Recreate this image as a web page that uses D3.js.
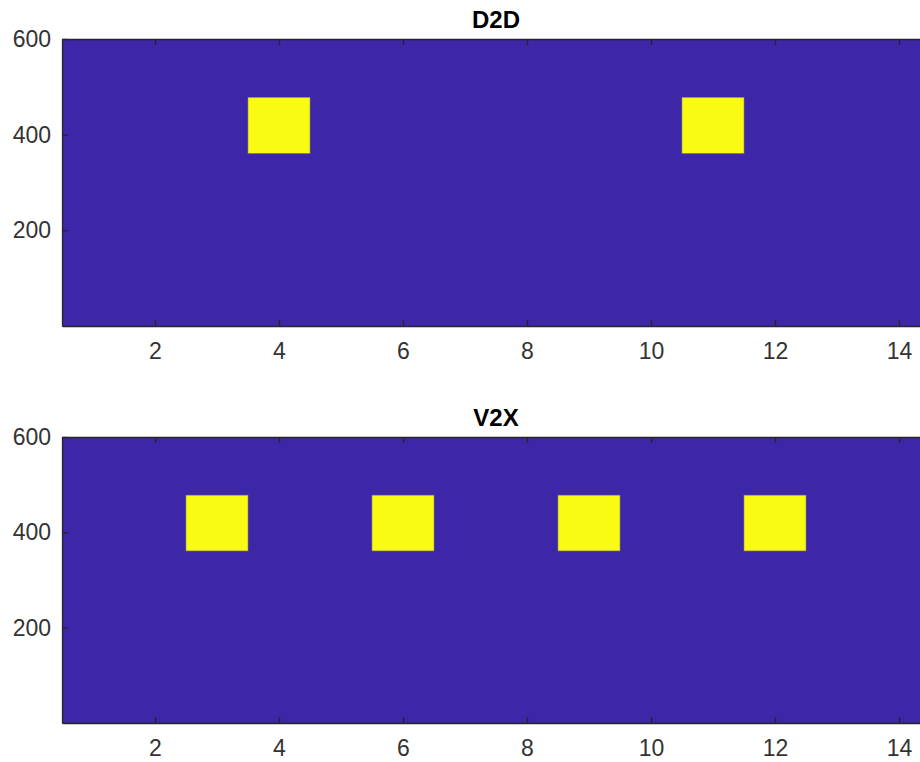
<!DOCTYPE html>
<meta charset="utf-8">
<style>
body { margin: 0; overflow: hidden; background: #fff; }
.axis text { font-family: "Liberation Sans", Arial, sans-serif; font-size: 23px; fill: #333; }
.title { font-family: "Liberation Sans", Arial, sans-serif; font-size: 24px; font-weight: bold; fill: #000; }
</style>
<script src="https://d3js.org/d3.v7.min.js"></script>
<div id="chart"></div>
<script>

// columns of the image (1..14)
var columns = [1, 2, 3, 4, 5, 6, 7, 8, 9, 10, 11, 12, 13, 14];
// 1 = active (yellow), 0 = idle (blue)
var d2d = [0, 0, 0, 1, 0, 0, 0, 0, 0, 0, 1, 0, 0, 0];
var v2x = [0, 0, 1, 0, 0, 1, 0, 0, 1, 0, 0, 1, 0, 0];
// rows covered by an active block, out of 600
var activeRows = [361, 478];
var totalRows = [0, 600];
var xTicks = [2, 4, 6, 8, 10, 12, 14];
var yTicks = [200, 400, 600];

var panels = [
  {title: "D2D", values: d2d, top: 39, bottom: 326},
  {title: "V2X", values: v2x, top: 437, bottom: 723}
];

var colorLow = "#3e26a8", colorHigh = "#f9fb15";
var left = 62, right = 930;

var svg = d3.select("#chart").append("svg")
  .attr("width", 920)
  .attr("height", 762);

var x = d3.scaleLinear()
  .domain([0.5, 14.5])
  .range([left, right]);

panels.forEach(function(p) {
  var y = d3.scaleLinear()
    .domain(totalRows)
    .range([p.bottom, p.top]);

  var g = svg.append("g");

  // background cells per column
  g.selectAll("rect.bg")
    .data(columns)
    .enter().append("rect")
    .attr("class", "bg")
    .attr("x", function(c) { return x(c - 0.5); })
    .attr("width", function(c) { return x(c + 0.5) - x(c - 0.5); })
    .attr("y", y(totalRows[1]))
    .attr("height", y(totalRows[0]) - y(totalRows[1]))
    .attr("fill", colorLow)
    .attr("shape-rendering", "crispEdges");

  // active blocks
  g.selectAll("rect.on")
    .data(columns.filter(function(c, i) { return p.values[i] == 1; }))
    .enter().append("rect")
    .attr("class", "on")
    .attr("x", function(c) { return x(c - 0.5); })
    .attr("width", function(c) { return x(c + 0.5) - x(c - 0.5); })
    .attr("y", y(activeRows[1]))
    .attr("height", y(activeRows[0]) - y(activeRows[1]))
    .attr("fill", colorHigh)
    .attr("stroke", "#8c8a5c")
    .attr("stroke-width", 0.6);

  // axes, ticks pointing inward
  var xb = g.append("g").attr("class", "axis")
    .attr("transform", "translate(0," + p.bottom + ")")
    .call(d3.axisBottom(x).tickValues(xTicks).tickSizeInner(-6).tickSizeOuter(0).tickPadding(12));
  xb.selectAll("text").attr("dy", "0.71em").attr("y", 17);

  g.append("g").attr("class", "axis")
    .attr("transform", "translate(0," + p.top + ")")
    .call(d3.axisTop(x).tickValues(xTicks).tickSizeInner(-6).tickSizeOuter(0).tickFormat(""));

  g.append("g").attr("class", "axis")
    .attr("transform", "translate(" + left + ",0)")
    .call(d3.axisLeft(y).tickValues(yTicks).tickSizeInner(-6).tickSizeOuter(0).tickPadding(11))
    .selectAll("text").attr("x", -11);

  g.selectAll(".axis path").attr("stroke", "#262626").attr("stroke-width", 1.3);
  g.selectAll(".axis line").attr("stroke", "#262626").attr("stroke-width", 1.3);

  g.append("text")
    .attr("class", "title")
    .attr("x", (left + right) / 2)
    .attr("y", p.top - 11)
    .attr("text-anchor", "middle")
    .text(p.title);
});

</script>
